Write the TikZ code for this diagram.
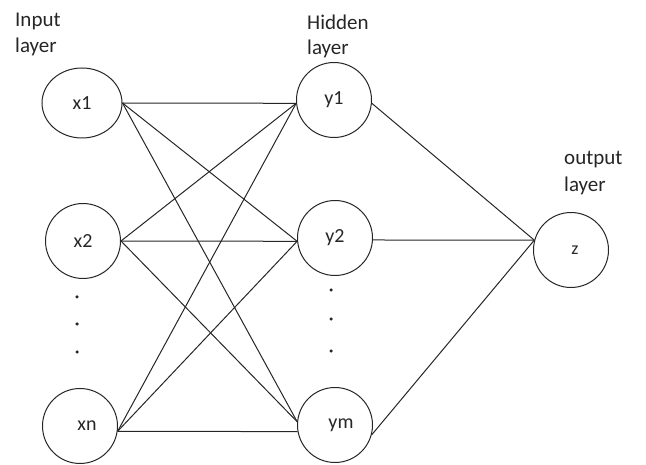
\documentclass[tikz,border=0pt]{standalone}
\usepackage{fontspec}
\setmainfont{Carlito}
\usetikzlibrary{shapes.geometric}
\begin{document}
\begin{tikzpicture}[x=1pt,y=-1pt,
  neuron/.style={draw=black!85, circle, minimum size=75pt, inner sep=0pt, line width=1pt,
                 font=\fontsize{20}{24}\selectfont, text=black!85},
  link/.style={draw=black!85, line width=1pt},
  lbl/.style={anchor=base west, inner sep=0pt, font=\fontsize{21}{26}\selectfont, text=black!85},
  dotmark/.style={circle, fill=black!85, inner sep=0pt, minimum size=3.5pt}]
\useasboundingbox (0,0) rectangle (646,465);

% layer captions
\node[lbl] (inA) at (15,27) {Input};
\node[lbl] (inB) at (15,53) {layer};
\node[lbl] (hidA) at (307,30) {Hidden};
\node[lbl] (hidB) at (307,55) {layer};
\node[lbl] (outA) at (564,165) {output};
\node[lbl] (outB) at (564,192) {layer};

% input neurons
\node[neuron, ellipse, minimum width=80pt, minimum height=70pt] (x1) at (82,103) {x1};
\node[neuron] (x2) at (83,241) {x2};
\node[neuron] (xn) at (80,426) {\hspace*{14pt}xn};

% hidden neurons
\node[neuron] (y1) at (334,100) {y1};
\node[neuron] (y2) at (335,238) {y2};
\node[neuron] (ym) at (335,425) {\hspace*{12pt}ym};

% output neuron
\node[neuron, font=\fontsize{18}{22}\selectfont] (z) at (571,250) {\hspace*{8pt}z};

% ellipsis dots
\foreach \yy [count=\i] in {297,324,352} \node[dotmark] (din\i) at (77,\yy) {};
\foreach \yy [count=\i] in {290,319,351} \node[dotmark] (dhid\i) at (331,\yy) {};

% input -> hidden
\coordinate (x1o) at (x1.east);
\coordinate (x2o) at (x2.east);
\coordinate (xno) at (xn.-8);
\coordinate (y1i) at (y1.185);
\coordinate (y2i) at (y2.185);
\coordinate (ymi) at (ym.175);
\coordinate (ymh) at (ym.190);
\foreach \a in {x1o,x2o} \foreach \b in {y1i,y2i,ymi} \draw[link] (\a) -- (\b);
\draw[link] (xno) -- (y1i);
\draw[link] (xno) -- (y2i);
\draw[link] (xno) -- (ymh);

% hidden -> output
\draw[link] (y1.-5) -- (z.165);
\draw[link] (y2.-3) -- (z.165);
\draw[link] (ym.-15) -- (z.165);
\end{tikzpicture}
\end{document}
